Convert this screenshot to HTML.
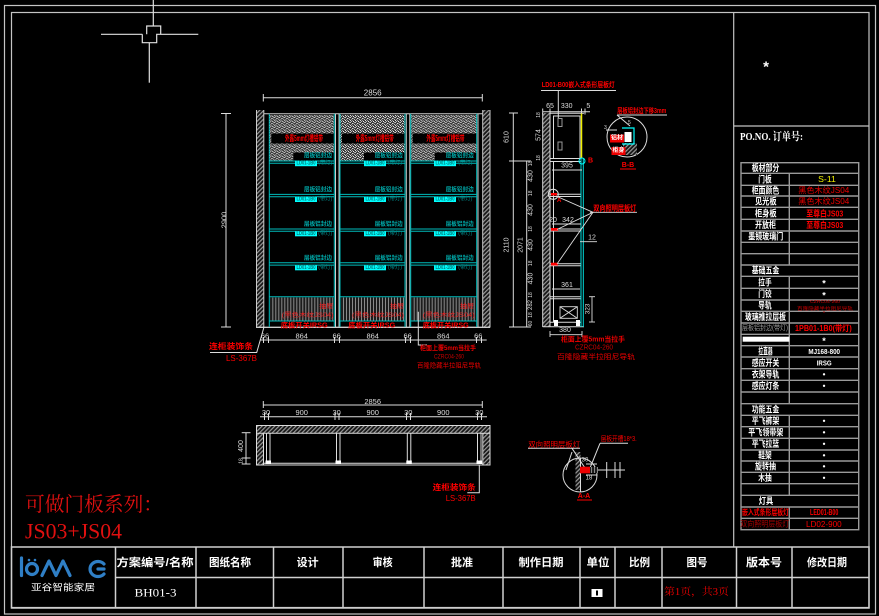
<!DOCTYPE html>
<html><head><meta charset="utf-8"><style>
html,body{margin:0;padding:0;background:#000;}
svg{display:block;}
text{font-family:"Liberation Sans","Noto Sans CJK SC",sans-serif;}
</style></head><body>
<svg width="879" height="616" viewBox="0 0 879 616" xmlns="http://www.w3.org/2000/svg">
<defs>
<pattern id="hatch" width="3" height="3" patternUnits="userSpaceOnUse" patternTransform="rotate(45)"><rect width="3" height="3" fill="#151515"/><rect width="1.2" height="3" fill="#9a9a9a"/></pattern>
<pattern id="noise" width="5" height="5" patternUnits="userSpaceOnUse">
<rect width="5" height="5" fill="#3a3a3a"/>
<rect x="0" y="0" width="1" height="1" fill="#ddd"/><rect x="2" y="0" width="1" height="1" fill="#999"/>
<rect x="1" y="1" width="1" height="1" fill="#bbb"/><rect x="3" y="1" width="1" height="1" fill="#eee"/>
<rect x="4" y="2" width="1" height="1" fill="#aaa"/><rect x="0" y="2" width="1" height="1" fill="#ccc"/>
<rect x="2" y="3" width="1" height="1" fill="#ddd"/><rect x="4" y="4" width="1" height="1" fill="#bbb"/>
<rect x="1" y="4" width="1" height="1" fill="#999"/><rect x="3" y="3" width="1" height="1" fill="#888"/>
</pattern>
<pattern id="stripe" width="3" height="4" patternUnits="userSpaceOnUse"><rect width="3" height="4" fill="#1c1c1c"/><rect width="1" height="4" fill="#8a8a8a"/></pattern>
</defs>
<rect width="879" height="616" fill="#000"/>

<!-- frames -->
<g fill="none" stroke="#c4c4c4" stroke-width="1.2">
<rect x="4.5" y="5.5" width="871" height="608.5"/>
<rect x="11.5" y="12.5" width="857.5" height="595"/>
<line x1="733.7" y1="12.5" x2="733.7" y2="547"/>
<line x1="733.7" y1="126" x2="869" y2="126"/>
</g>

<!-- crosshair -->
<g fill="none" stroke="#e0e0e0" stroke-width="1.2">
<line x1="153.3" y1="0" x2="153.3" y2="26"/>
<line x1="101" y1="34.3" x2="142.3" y2="34.3"/>
<path d="M142.3,34.3 V42.7 H156.7 V34.3 H198.3"/>
<path d="M146.7,34.3 V26 H160.7 V34.3"/>
<line x1="149.3" y1="42.7" x2="149.3" y2="82.7"/>
</g>

<text x="766" y="67" fill="#fff" font-size="15" font-weight="bold" text-anchor="middle" dominant-baseline="central">*</text>

<!-- ===== FRONT ELEVATION ===== -->
<g stroke="#ddd" stroke-width="1">
<line x1="263.3" y1="97.7" x2="482.3" y2="97.7"/>
<line x1="263.3" y1="94" x2="263.3" y2="101.5"/>
<line x1="482.3" y1="94" x2="482.3" y2="101.5"/>
</g>
<text x="372.7" y="93" fill="#ddd" font-size="8" text-anchor="middle" dominant-baseline="central">2856</text>

<!-- height dim -->
<g stroke="#ddd" stroke-width="1">
<line x1="226" y1="113.5" x2="226" y2="327"/>
<line x1="221" y1="113.5" x2="231" y2="113.5"/>
<line x1="221" y1="327" x2="231" y2="327"/>
</g>
<text transform="translate(224,220) rotate(-90)" fill="#ddd" font-size="7.5" text-anchor="middle" dominant-baseline="central">2900</text>

<!-- side panels -->
<rect x="257" y="110" width="6.5" height="217" fill="url(#hatch)"/>
<rect x="483" y="110" width="6.5" height="217" fill="url(#hatch)"/>
<g stroke="#ccc" stroke-width="1" fill="none">
<line x1="256.5" y1="110" x2="256.5" y2="327.5"/>
<line x1="263.8" y1="110" x2="263.8" y2="327.5"/>
<line x1="482.7" y1="110" x2="482.7" y2="327.5"/>
<line x1="490" y1="110" x2="490" y2="327.5"/>
<line x1="264" y1="113.7" x2="482.7" y2="113.7"/>
<line x1="256" y1="327.3" x2="490" y2="327.3" stroke-width="1.3"/>
<line x1="335.5" y1="113.7" x2="335.5" y2="327"/>
<line x1="339" y1="113.7" x2="339" y2="327"/>
<line x1="406.3" y1="113.7" x2="406.3" y2="327"/>
<line x1="409.8" y1="113.7" x2="409.8" y2="327"/>
<line x1="478" y1="113.7" x2="478" y2="327"/>
</g>

<!-- bay 1 -->
<g transform="translate(269.3,0)">
<rect x="0" y="115" width="65" height="45.5" fill="url(#noise)"/>
<rect x="2" y="133.5" width="63" height="10" fill="#000"/>
<rect x="24" y="152.5" width="41" height="8" fill="#000"/>
<text x="34.7" y="138.5" fill="#f00" font-size="8" font-weight="bold" text-anchor="middle" dominant-baseline="central" textLength="38" lengthAdjust="spacingAndGlyphs">外露5mm灯槽铝带</text>
<g stroke="#0bb" stroke-width="1">
<line x1="0" y1="161" x2="65" y2="161"/><line x1="0" y1="163.3" x2="65" y2="163.3"/>
<line x1="0" y1="194.4" x2="65" y2="194.4"/><line x1="0" y1="196.7" x2="65" y2="196.7"/>
<line x1="0" y1="229" x2="65" y2="229"/><line x1="0" y1="231.3" x2="65" y2="231.3"/>
<line x1="0" y1="262.8" x2="65" y2="262.8"/><line x1="0" y1="265.1" x2="65" y2="265.1"/>
<line x1="0" y1="296.7" x2="65" y2="296.7"/><line x1="0" y1="321" x2="65" y2="321"/>
<line x1="0" y1="113.7" x2="0" y2="327"/><line x1="65" y1="113.7" x2="65" y2="327"/>
</g>
<g fill="#0aa" font-size="6" font-weight="bold">
<text x="34.7" y="156.3" dominant-baseline="central" textLength="28" lengthAdjust="spacingAndGlyphs">层板铝封边</text>
<text x="34.7" y="190.3" dominant-baseline="central" textLength="28" lengthAdjust="spacingAndGlyphs">层板铝封边</text>
<text x="34.7" y="225" dominant-baseline="central" textLength="28" lengthAdjust="spacingAndGlyphs">层板铝封边</text>
<text x="34.7" y="259" dominant-baseline="central" textLength="28" lengthAdjust="spacingAndGlyphs">层板铝封边</text>
</g>
<g fill="#0ff">
<rect x="25.7" y="160.7" width="22" height="5.5"/>
<rect x="25.7" y="197" width="22" height="5"/>
<rect x="25.7" y="231.3" width="22" height="5"/>
<rect x="25.7" y="265.3" width="22" height="5"/>
</g>
<g fill="#077" font-size="5" font-weight="bold">
<text x="36.7" y="163.5" text-anchor="middle" dominant-baseline="central" textLength="19" lengthAdjust="spacingAndGlyphs">LD01-1B0</text>
<text x="36.7" y="199.5" text-anchor="middle" dominant-baseline="central" textLength="19" lengthAdjust="spacingAndGlyphs">LD01-1B0</text>
<text x="36.7" y="233.8" text-anchor="middle" dominant-baseline="central" textLength="19" lengthAdjust="spacingAndGlyphs">LD01-1B0</text>
<text x="36.7" y="267.8" text-anchor="middle" dominant-baseline="central" textLength="19" lengthAdjust="spacingAndGlyphs">LD01-1B0</text>
</g>
<g fill="#088" font-size="5.5">
<text x="49" y="163.5" dominant-baseline="central" textLength="14" lengthAdjust="spacingAndGlyphs">(带灯)</text>
<text x="49" y="199.5" dominant-baseline="central" textLength="14" lengthAdjust="spacingAndGlyphs">(带灯)</text>
<text x="49" y="233.8" dominant-baseline="central" textLength="14" lengthAdjust="spacingAndGlyphs">(带灯)</text>
<text x="49" y="267.8" dominant-baseline="central" textLength="14" lengthAdjust="spacingAndGlyphs">(带灯)</text>
</g>
<rect x="1" y="297.5" width="63" height="23" fill="url(#stripe)"/>
<text x="50" y="306.7" fill="#f22" font-size="6.5" dominant-baseline="central" textLength="14" lengthAdjust="spacingAndGlyphs">抽屉</text>
<text x="12.4" y="316" fill="#e22" font-size="6" dominant-baseline="central" textLength="52" lengthAdjust="spacingAndGlyphs">(黑色木纹JS04)</text>
<text x="11.4" y="326" fill="#f00" font-size="7" font-weight="bold" dominant-baseline="central" textLength="47" lengthAdjust="spacingAndGlyphs">底板开关IRSG</text>
</g>

<!-- bay 2 -->
<g transform="translate(340,0)">
<rect x="0" y="115" width="65" height="45.5" fill="url(#noise)"/>
<rect x="2" y="133.5" width="63" height="10" fill="#000"/>
<rect x="24" y="152.5" width="41" height="8" fill="#000"/>
<text x="34.7" y="138.5" fill="#f00" font-size="8" font-weight="bold" text-anchor="middle" dominant-baseline="central" textLength="38" lengthAdjust="spacingAndGlyphs">外露5mm灯槽铝带</text>
<g stroke="#0bb" stroke-width="1">
<line x1="0" y1="161" x2="65" y2="161"/><line x1="0" y1="163.3" x2="65" y2="163.3"/>
<line x1="0" y1="194.4" x2="65" y2="194.4"/><line x1="0" y1="196.7" x2="65" y2="196.7"/>
<line x1="0" y1="229" x2="65" y2="229"/><line x1="0" y1="231.3" x2="65" y2="231.3"/>
<line x1="0" y1="262.8" x2="65" y2="262.8"/><line x1="0" y1="265.1" x2="65" y2="265.1"/>
<line x1="0" y1="296.7" x2="65" y2="296.7"/><line x1="0" y1="321" x2="65" y2="321"/>
<line x1="0" y1="113.7" x2="0" y2="327"/><line x1="65" y1="113.7" x2="65" y2="327"/>
</g>
<g fill="#0aa" font-size="6" font-weight="bold">
<text x="34.7" y="156.3" dominant-baseline="central" textLength="28" lengthAdjust="spacingAndGlyphs">层板铝封边</text>
<text x="34.7" y="190.3" dominant-baseline="central" textLength="28" lengthAdjust="spacingAndGlyphs">层板铝封边</text>
<text x="34.7" y="225" dominant-baseline="central" textLength="28" lengthAdjust="spacingAndGlyphs">层板铝封边</text>
<text x="34.7" y="259" dominant-baseline="central" textLength="28" lengthAdjust="spacingAndGlyphs">层板铝封边</text>
</g>
<g fill="#0ff">
<rect x="24" y="160.7" width="22" height="5.5"/>
<rect x="24" y="197" width="22" height="5"/>
<rect x="24" y="231.3" width="22" height="5"/>
<rect x="24" y="265.3" width="22" height="5"/>
</g>
<g fill="#077" font-size="5" font-weight="bold">
<text x="35" y="163.5" text-anchor="middle" dominant-baseline="central" textLength="19" lengthAdjust="spacingAndGlyphs">LD01-1B0</text>
<text x="35" y="199.5" text-anchor="middle" dominant-baseline="central" textLength="19" lengthAdjust="spacingAndGlyphs">LD01-1B0</text>
<text x="35" y="233.8" text-anchor="middle" dominant-baseline="central" textLength="19" lengthAdjust="spacingAndGlyphs">LD01-1B0</text>
<text x="35" y="267.8" text-anchor="middle" dominant-baseline="central" textLength="19" lengthAdjust="spacingAndGlyphs">LD01-1B0</text>
</g>
<g fill="#088" font-size="5.5">
<text x="48" y="163.5" dominant-baseline="central" textLength="14" lengthAdjust="spacingAndGlyphs">(带灯)</text>
<text x="48" y="199.5" dominant-baseline="central" textLength="14" lengthAdjust="spacingAndGlyphs">(带灯)</text>
<text x="48" y="233.8" dominant-baseline="central" textLength="14" lengthAdjust="spacingAndGlyphs">(带灯)</text>
<text x="48" y="267.8" dominant-baseline="central" textLength="14" lengthAdjust="spacingAndGlyphs">(带灯)</text>
</g>
<rect x="1" y="297.5" width="63" height="23" fill="url(#stripe)"/>
<text x="50" y="306.7" fill="#f22" font-size="6.5" dominant-baseline="central" textLength="14" lengthAdjust="spacingAndGlyphs">抽屉</text>
<text x="12" y="316" fill="#e22" font-size="6" dominant-baseline="central" textLength="52" lengthAdjust="spacingAndGlyphs">(黑色木纹JS04)</text>
<text x="8.3" y="326" fill="#f00" font-size="7" font-weight="bold" dominant-baseline="central" textLength="47" lengthAdjust="spacingAndGlyphs">底板开关IRSG</text>
</g>

<!-- bay 3 -->
<g transform="translate(410.7,0)">
<rect x="0" y="115" width="66" height="45.5" fill="url(#noise)"/>
<rect x="2" y="133.5" width="64" height="10" fill="#000"/>
<rect x="24" y="152.5" width="42" height="8" fill="#000"/>
<text x="34.7" y="138.5" fill="#f00" font-size="8" font-weight="bold" text-anchor="middle" dominant-baseline="central" textLength="38" lengthAdjust="spacingAndGlyphs">外露5mm灯槽铝带</text>
<g stroke="#0bb" stroke-width="1">
<line x1="0" y1="161" x2="66" y2="161"/><line x1="0" y1="163.3" x2="66" y2="163.3"/>
<line x1="0" y1="194.4" x2="66" y2="194.4"/><line x1="0" y1="196.7" x2="66" y2="196.7"/>
<line x1="0" y1="229" x2="66" y2="229"/><line x1="0" y1="231.3" x2="66" y2="231.3"/>
<line x1="0" y1="262.8" x2="66" y2="262.8"/><line x1="0" y1="265.1" x2="66" y2="265.1"/>
<line x1="0" y1="296.7" x2="66" y2="296.7"/><line x1="0" y1="321" x2="66" y2="321"/>
<line x1="0" y1="113.7" x2="0" y2="327"/><line x1="66" y1="113.7" x2="66" y2="327"/>
</g>
<g fill="#0aa" font-size="6" font-weight="bold">
<text x="35" y="156.3" dominant-baseline="central" textLength="28" lengthAdjust="spacingAndGlyphs">层板铝封边</text>
<text x="35" y="190.3" dominant-baseline="central" textLength="28" lengthAdjust="spacingAndGlyphs">层板铝封边</text>
<text x="35" y="225" dominant-baseline="central" textLength="28" lengthAdjust="spacingAndGlyphs">层板铝封边</text>
<text x="35" y="259" dominant-baseline="central" textLength="28" lengthAdjust="spacingAndGlyphs">层板铝封边</text>
</g>
<g fill="#0ff">
<rect x="23.3" y="160.7" width="22" height="5.5"/>
<rect x="23.3" y="197" width="22" height="5"/>
<rect x="23.3" y="231.3" width="22" height="5"/>
<rect x="23.3" y="265.3" width="22" height="5"/>
</g>
<g fill="#077" font-size="5" font-weight="bold">
<text x="34.3" y="163.5" text-anchor="middle" dominant-baseline="central" textLength="19" lengthAdjust="spacingAndGlyphs">LD01-1B0</text>
<text x="34.3" y="199.5" text-anchor="middle" dominant-baseline="central" textLength="19" lengthAdjust="spacingAndGlyphs">LD01-1B0</text>
<text x="34.3" y="233.8" text-anchor="middle" dominant-baseline="central" textLength="19" lengthAdjust="spacingAndGlyphs">LD01-1B0</text>
<text x="34.3" y="267.8" text-anchor="middle" dominant-baseline="central" textLength="19" lengthAdjust="spacingAndGlyphs">LD01-1B0</text>
</g>
<g fill="#088" font-size="5.5">
<text x="47.5" y="163.5" dominant-baseline="central" textLength="14" lengthAdjust="spacingAndGlyphs">(带灯)</text>
<text x="47.5" y="199.5" dominant-baseline="central" textLength="14" lengthAdjust="spacingAndGlyphs">(带灯)</text>
<text x="47.5" y="233.8" dominant-baseline="central" textLength="14" lengthAdjust="spacingAndGlyphs">(带灯)</text>
<text x="47.5" y="267.8" dominant-baseline="central" textLength="14" lengthAdjust="spacingAndGlyphs">(带灯)</text>
</g>
<rect x="1" y="297.5" width="64" height="23" fill="url(#stripe)"/>
<text x="49.3" y="306.7" fill="#f22" font-size="6.5" dominant-baseline="central" textLength="14" lengthAdjust="spacingAndGlyphs">抽屉</text>
<text x="12" y="316" fill="#e22" font-size="6" dominant-baseline="central" textLength="52" lengthAdjust="spacingAndGlyphs">(黑色木纹JS04)</text>
<text x="12" y="326" fill="#f00" font-size="7" font-weight="bold" dominant-baseline="central" textLength="46" lengthAdjust="spacingAndGlyphs">底板开关IRSG</text>
</g>

<!-- bottom dims -->
<g stroke="#ddd" stroke-width="1">
<line x1="260" y1="340" x2="486.7" y2="340"/>
<line x1="263.5" y1="337" x2="263.5" y2="343"/><line x1="268.5" y1="337" x2="268.5" y2="343"/>
<line x1="334.5" y1="337" x2="334.5" y2="343"/><line x1="339.5" y1="337" x2="339.5" y2="343"/>
<line x1="405.5" y1="337" x2="405.5" y2="343"/><line x1="410.5" y1="337" x2="410.5" y2="343"/>
<line x1="476.5" y1="337" x2="476.5" y2="343"/><line x1="481.5" y1="337" x2="481.5" y2="343"/>
</g>
<g fill="#ddd" font-size="7.5" text-anchor="middle" dominant-baseline="central">
<text x="265" y="336">66</text><text x="301.7" y="336">864</text>
<text x="336.7" y="336">66</text><text x="372.7" y="336">864</text>
<text x="407.7" y="336">66</text><text x="443.3" y="336">864</text>
<text x="478.3" y="336">66</text>
</g>

<!-- left label -->
<polyline points="264,327 256.7,352.5 210,352.5" fill="none" stroke="#ddd" stroke-width="1"/>
<text x="209" y="346.5" fill="#f00" font-size="8" font-weight="bold" dominant-baseline="central" textLength="44" lengthAdjust="spacingAndGlyphs">连柜装饰条</text>
<text x="226" y="358.3" fill="#f00" font-size="8" dominant-baseline="central" textLength="31" lengthAdjust="spacingAndGlyphs">LS-367B</text>

<!-- right label -->
<polyline points="418.3,311.7 418.3,345 427,345" fill="none" stroke="#ddd" stroke-width="1"/>
<g fill="#e00" font-size="6.5" text-anchor="middle" dominant-baseline="central">
<text x="448" y="348.5" font-weight="bold" textLength="56" lengthAdjust="spacingAndGlyphs">柜面上覆5mm当拉手</text>
<text x="449" y="357" fill="#c00" textLength="30" lengthAdjust="spacingAndGlyphs">CZRC04-260</text>
<text x="449" y="366" textLength="64" lengthAdjust="spacingAndGlyphs">百隆隐藏半拉阻尼导轨</text>
</g>

<!-- ===== PLAN VIEW ===== -->
<g stroke="#ddd" stroke-width="1">
<line x1="263.3" y1="405" x2="482.3" y2="405"/>
<line x1="263.3" y1="401" x2="263.3" y2="408"/><line x1="482.3" y1="401" x2="482.3" y2="408"/>
<line x1="260" y1="416.7" x2="487" y2="416.7"/>
<line x1="264.5" y1="413" x2="264.5" y2="420"/><line x1="268.5" y1="413" x2="268.5" y2="420"/>
<line x1="335" y1="413" x2="335" y2="420"/><line x1="339" y1="413" x2="339" y2="420"/>
<line x1="406.5" y1="413" x2="406.5" y2="420"/><line x1="410.5" y1="413" x2="410.5" y2="420"/>
<line x1="477.5" y1="413" x2="477.5" y2="420"/><line x1="481.5" y1="413" x2="481.5" y2="420"/>
</g>
<g fill="#ddd" font-size="7.5" text-anchor="middle" dominant-baseline="central">
<text x="372.7" y="401.5">2856</text>
<text x="266" y="412.5">30</text><text x="301.7" y="412.5">900</text>
<text x="336.7" y="412.5">30</text><text x="372.7" y="412.5">900</text>
<text x="408.3" y="412.5">30</text><text x="443.3" y="412.5">900</text>
<text x="479.3" y="412.5">30</text>
</g>
<rect x="256.5" y="425.5" width="233.5" height="8" fill="url(#hatch)"/>
<rect x="256.5" y="433.5" width="7" height="31.5" fill="url(#hatch)"/>
<rect x="483" y="433.5" width="7" height="31.5" fill="url(#hatch)"/>
<g stroke="#ddd" stroke-width="1" fill="none">
<rect x="256.5" y="425.5" width="233.5" height="39.5"/>
<line x1="256.5" y1="433.3" x2="490" y2="433.3"/>
<line x1="263.5" y1="433.3" x2="263.5" y2="465"/>
<line x1="482.8" y1="433.3" x2="482.8" y2="465"/>
<line x1="263.5" y1="463.3" x2="482.8" y2="463.3"/>
<line x1="266.5" y1="433.3" x2="266.5" y2="463"/><line x1="270" y1="433.3" x2="270" y2="463"/>
<line x1="336.5" y1="433.3" x2="336.5" y2="463"/><line x1="340" y1="433.3" x2="340" y2="463"/>
<line x1="407.3" y1="433.3" x2="407.3" y2="463"/><line x1="410.8" y1="433.3" x2="410.8" y2="463"/>
<line x1="477.5" y1="433.3" x2="477.5" y2="463"/><line x1="481" y1="433.3" x2="481" y2="463"/>
</g>
<g fill="#fff">
<rect x="265.5" y="460.5" width="5.5" height="3.5"/><rect x="335.5" y="460.5" width="5.5" height="3.5"/>
<rect x="406.3" y="460.5" width="5.5" height="3.5"/><rect x="476.5" y="460.5" width="5.5" height="3.5"/>
</g>
<g stroke="#ddd" stroke-width="1">
<line x1="246" y1="432.7" x2="246" y2="464"/>
<line x1="241.7" y1="432.7" x2="250.5" y2="432.7"/>
<line x1="241.7" y1="464" x2="250.5" y2="464"/>
<line x1="241.7" y1="458" x2="250.5" y2="458"/>
</g>
<text transform="translate(241.5,446) rotate(-90)" fill="#ddd" font-size="7" text-anchor="middle" dominant-baseline="central">400</text>
<text transform="translate(241.5,461) rotate(-90)" fill="#ddd" font-size="5" text-anchor="middle" dominant-baseline="central">18</text>
<polyline points="479.3,465 479.3,492.7 467.3,492.7" fill="none" stroke="#ddd" stroke-width="1"/>
<text x="432.7" y="487.3" fill="#f00" font-size="8" font-weight="bold" dominant-baseline="central" textLength="43" lengthAdjust="spacingAndGlyphs">连柜装饰条</text>
<text x="445.7" y="498.3" fill="#f00" font-size="8" dominant-baseline="central" textLength="30" lengthAdjust="spacingAndGlyphs">LS-367B</text>

<!-- ===== SIDE SECTION ===== -->
<text x="541.7" y="85.7" fill="#f00" font-size="7" font-weight="bold" dominant-baseline="central" textLength="73" lengthAdjust="spacingAndGlyphs">LD01-B00嵌入式条形层板灯</text>
<g stroke="#ddd" stroke-width="1" fill="none">
<line x1="541" y1="90.5" x2="616" y2="90.5"/>
<line x1="558.3" y1="90.5" x2="558.3" y2="118"/>
<line x1="542.7" y1="111.7" x2="590" y2="111.7"/>
<line x1="542.7" y1="108.5" x2="542.7" y2="114.5"/>
<line x1="550" y1="108.5" x2="550" y2="114.5"/>
<line x1="581.5" y1="108.5" x2="581.5" y2="114.5"/>
<line x1="585" y1="108.5" x2="585" y2="114.5"/>
</g>
<g fill="#ddd" font-size="7" text-anchor="middle" dominant-baseline="central">
<text x="550" y="106.5">65</text><text x="566.7" y="106.5">330</text><text x="588.3" y="106.5">5</text>
</g>
<rect x="543" y="113" width="7" height="214" fill="url(#hatch)"/>
<g stroke="#ddd" stroke-width="1" fill="none">
<line x1="542.7" y1="113" x2="542.7" y2="327"/>
<line x1="550" y1="113" x2="550" y2="327"/>
<line x1="550" y1="113.3" x2="584" y2="113.3"/>
<rect x="553.5" y="116" width="26.5" height="42.5"/>
<line x1="550" y1="158.5" x2="581" y2="158.5"/>
<line x1="550" y1="161.5" x2="581" y2="161.5"/>
<line x1="550" y1="194.3" x2="581" y2="194.3"/><line x1="550" y1="196.5" x2="581" y2="196.5"/>
<line x1="550" y1="229" x2="581" y2="229"/><line x1="550" y1="231" x2="581" y2="231"/>
<line x1="550" y1="263.7" x2="581" y2="263.7"/><line x1="550" y1="265.7" x2="581" y2="265.7"/>
<line x1="550" y1="296.7" x2="581" y2="296.7"/><line x1="550" y1="298.7" x2="581" y2="298.7"/>
<line x1="550" y1="322.3" x2="581" y2="322.3"/>
<line x1="542.7" y1="326.7" x2="584" y2="326.7"/>
<line x1="553.5" y1="161.5" x2="553.5" y2="322"/>
</g>
<g stroke="#999" stroke-width="1" fill="none">
<rect x="558" y="118.5" width="4" height="8"/>
<rect x="558" y="142" width="4" height="8"/>
</g>
<line x1="581.5" y1="113.5" x2="581.5" y2="158.5" stroke="#ee0" stroke-width="1.5"/>
<line x1="581" y1="158.5" x2="581" y2="327" stroke="#0dd" stroke-width="1"/>
<line x1="583.3" y1="158.5" x2="583.3" y2="327" stroke="#0dd" stroke-width="1"/>
<circle cx="582" cy="161" r="3" fill="none" stroke="#0ff" stroke-width="1"/>
<text x="588" y="161" fill="#f00" font-size="7" font-weight="bold" dominant-baseline="central">B</text>
<circle cx="553.3" cy="194.3" r="5" fill="none" stroke="#ddd" stroke-width="1"/>
<g fill="#f00">
<rect x="551" y="193" width="6" height="2.5"/>
<rect x="551" y="228" width="7" height="2.8"/>
<rect x="551" y="262.7" width="7" height="2.8"/>
</g>
<text x="557" y="201" fill="#f00" font-size="6" font-weight="bold" dominant-baseline="central">A</text>
<g stroke="#ddd" stroke-width="0.9" fill="none">
<line x1="552" y1="170" x2="582" y2="170"/>
<line x1="552" y1="224" x2="581" y2="224"/>
<line x1="552" y1="289" x2="580" y2="289"/>
<line x1="580" y1="241.7" x2="597" y2="241.7"/>
<line x1="593" y1="212.3" x2="556" y2="196"/>
<line x1="593" y1="212.3" x2="557" y2="229.5"/>
<line x1="593" y1="212.3" x2="557" y2="264"/>
<line x1="590" y1="212.3" x2="637" y2="212.3"/>
<rect x="560" y="306.7" width="17.3" height="11.6"/>
<line x1="560" y1="306.7" x2="577.3" y2="318.3"/>
<line x1="577.3" y1="306.7" x2="560" y2="318.3"/>
<line x1="592" y1="296.7" x2="592" y2="322"/>
<line x1="589" y1="296.7" x2="595" y2="296.7"/>
<line x1="589" y1="322" x2="595" y2="322"/>
<line x1="550" y1="334.7" x2="582" y2="334.7"/>
<line x1="550" y1="331" x2="550" y2="337"/>
<line x1="582" y1="331" x2="582" y2="337"/>
</g>
<g fill="#fff">
<rect x="554" y="320" width="4" height="6"/>
<rect x="576" y="320" width="4" height="6"/>
</g>
<g fill="#ddd" font-size="7" text-anchor="middle" dominant-baseline="central">
<text x="567" y="166">395</text>
<text x="553" y="220.5">20</text><text x="568" y="220.5">342</text>
<text x="567" y="285.3">361</text>
<text x="592" y="237.8">12</text>
<text x="565" y="330.5">380</text>
</g>
<text transform="translate(588,309) rotate(-90)" fill="#ddd" font-size="6.5" text-anchor="middle" dominant-baseline="central">323</text>
<text x="593.3" y="208.3" fill="#f00" font-size="8" font-weight="bold" dominant-baseline="central" textLength="43" lengthAdjust="spacingAndGlyphs">双向照明层板灯</text>
<g fill="#e00" font-size="7" text-anchor="middle" dominant-baseline="central">
<text x="593" y="340" font-weight="bold" textLength="64" lengthAdjust="spacingAndGlyphs">柜面上覆5mm当拉手</text>
<text x="594" y="348" fill="#c00" textLength="38" lengthAdjust="spacingAndGlyphs">CZRC04-260</text>
<text x="596" y="357.5" textLength="78" lengthAdjust="spacingAndGlyphs">百隆隐藏半拉阻尼导轨</text>
</g>
<!-- left dims of side -->
<g stroke="#ddd" stroke-width="1">
<line x1="513.3" y1="113" x2="513.3" y2="327"/>
<line x1="509" y1="113" x2="518" y2="113"/>
<line x1="509" y1="161" x2="531" y2="161"/>
<line x1="509" y1="327" x2="531" y2="327"/>
<line x1="526.7" y1="161" x2="526.7" y2="327"/>
</g>
<g fill="#ddd" font-size="7" text-anchor="middle" dominant-baseline="central">
<text transform="translate(507,137) rotate(-90)">610</text>
<text transform="translate(507,245) rotate(-90)">2110</text>
<text transform="translate(521,245) rotate(-90)">2071</text>
<text transform="translate(531,176) rotate(-90)">430</text>
<text transform="translate(531,210) rotate(-90)">430</text>
<text transform="translate(531,245) rotate(-90)">430</text>
<text transform="translate(531,278.5) rotate(-90)">430</text>
<text transform="translate(531,305) rotate(-90)" font-size="6">282</text>
<text transform="translate(539,135) rotate(-90)">574</text>
</g>
<g fill="#ddd" font-size="5" text-anchor="middle" dominant-baseline="central">
<text transform="translate(531,163.5) rotate(-90)">18</text>
<text transform="translate(531,193.3) rotate(-90)">18</text>
<text transform="translate(531,229) rotate(-90)">18</text>
<text transform="translate(531,263.3) rotate(-90)">18</text>
<text transform="translate(531,295) rotate(-90)">18</text>
<text transform="translate(531,315) rotate(-90)">18</text>
<text transform="translate(531,323.5) rotate(-90)">60</text>
<text transform="translate(539,115) rotate(-90)">18</text>
<text transform="translate(539,158) rotate(-90)">18</text>
</g>

<!-- B-B detail -->
<text x="617.3" y="111.7" fill="#f00" font-size="7" font-weight="bold" dominant-baseline="central" textLength="49" lengthAdjust="spacingAndGlyphs">层板铝封边下移3mm</text>
<g stroke="#ddd" stroke-width="1" fill="none">
<line x1="617" y1="115" x2="667" y2="115"/>
<line x1="617" y1="115" x2="630" y2="126"/>
<circle cx="627" cy="137" r="20"/>
<line x1="606" y1="130" x2="617" y2="130"/>
</g>
<rect x="623" y="143" width="14" height="12" fill="url(#hatch)"/>
<rect x="610" y="134.5" width="14" height="8" fill="#e00"/>
<rect x="611.5" y="147" width="14" height="8" fill="#e00"/>
<rect x="624.5" y="132" width="7" height="10" fill="#fff"/>
<polyline points="622,128 634,128 634,144 622,144" fill="none" stroke="#0ff" stroke-width="1.2"/>
<g fill="#fff" font-size="6" font-weight="bold" text-anchor="middle" dominant-baseline="central">
<text x="617" y="138.5" textLength="12" lengthAdjust="spacingAndGlyphs">铝材</text>
<text x="618.5" y="151" textLength="12" lengthAdjust="spacingAndGlyphs">柜身</text>
</g>
<text x="604" y="128" fill="#ddd" font-size="5" dominant-baseline="central">3</text>
<text x="628" y="123" fill="#ddd" font-size="5" dominant-baseline="central">5</text>
<text x="628" y="165.5" fill="#f00" font-size="7" font-weight="bold" text-anchor="middle" dominant-baseline="central">B-B</text>
<line x1="620" y1="169" x2="636" y2="169" stroke="#f00" stroke-width="1"/>

<!-- A-A detail -->
<text x="528.3" y="444.5" fill="#f00" font-size="7.5" dominant-baseline="central" textLength="51.7" lengthAdjust="spacingAndGlyphs">双向照明层板灯</text>
<text x="600.7" y="439.5" fill="#f00" font-size="7" dominant-baseline="central" textLength="36" lengthAdjust="spacingAndGlyphs">层板开槽18*3.</text>
<rect x="575.5" y="452" width="5" height="38" fill="url(#hatch)"/>
<g stroke="#ddd" stroke-width="1" fill="none">
<line x1="528" y1="448.3" x2="580" y2="448.3"/>
<line x1="600" y1="443.3" x2="628" y2="443.3"/>
<line x1="600" y1="443.3" x2="590" y2="468"/>
<line x1="572" y1="448.3" x2="585" y2="468"/>
<line x1="566" y1="470" x2="572" y2="452"/>
<circle cx="580" cy="475" r="17"/>
<line x1="580.5" y1="458" x2="580.5" y2="492"/>
<line x1="597" y1="470" x2="625" y2="470"/>
<line x1="606.7" y1="462" x2="606.7" y2="478"/>
<line x1="615" y1="462" x2="615" y2="478"/>
<line x1="620" y1="462" x2="620" y2="478"/>
<line x1="586" y1="475" x2="597" y2="475"/>
<line x1="586" y1="464" x2="597" y2="464"/>
</g>
<rect x="590" y="467" width="8" height="6" fill="url(#stripe)"/>
<rect x="580" y="466.7" width="10" height="6.6" fill="#e00"/>
<g fill="#ddd" font-size="6" text-anchor="middle" dominant-baseline="central">
<text x="585" y="460.5">30</text>
<text x="589" y="478.5">18</text>
</g>
<text x="584" y="496.5" fill="#f00" font-size="7" font-weight="bold" text-anchor="middle" dominant-baseline="central">A-A</text>
<line x1="577" y1="500" x2="592" y2="500" stroke="#f00" stroke-width="1"/>

<!-- bottom-left red text -->
<text x="25" y="511" fill="#e01010" font-size="20" style="font-family:'Liberation Serif','Noto Serif CJK SC',serif" textLength="138" lengthAdjust="spacingAndGlyphs">可做门板系列：</text>
<text x="25" y="538.3" fill="#e01010" font-size="22" style="font-family:'Liberation Serif',serif" textLength="97" lengthAdjust="spacingAndGlyphs">JS03+JS04</text>

<!-- ===== RIGHT PANEL TABLE ===== -->
<text x="740" y="137" fill="#fff" font-size="11" font-weight="bold" style="font-family:'Liberation Serif','Noto Serif CJK SC',serif" dominant-baseline="central" textLength="63" lengthAdjust="spacingAndGlyphs">PO.NO. 订单号:</text>
<g stroke="#9a9a9a" stroke-width="1.4" fill="none">
<rect x="741" y="162.7" width="117.7" height="367"/>
<line x1="741" y1="173.3" x2="858.7" y2="173.3"/><line x1="741" y1="185.3" x2="858.7" y2="185.3"/>
<line x1="741" y1="196" x2="858.7" y2="196"/><line x1="741" y1="207.3" x2="858.7" y2="207.3"/>
<line x1="741" y1="219.3" x2="858.7" y2="219.3"/><line x1="741" y1="231" x2="858.7" y2="231"/>
<line x1="741" y1="242.3" x2="858.7" y2="242.3"/><line x1="741" y1="253.7" x2="858.7" y2="253.7"/>
<line x1="741" y1="265" x2="858.7" y2="265"/><line x1="741" y1="276.3" x2="858.7" y2="276.3"/>
<line x1="741" y1="288.3" x2="858.7" y2="288.3"/><line x1="741" y1="300" x2="858.7" y2="300"/>
<line x1="741" y1="311.3" x2="858.7" y2="311.3"/><line x1="741" y1="323" x2="858.7" y2="323"/>
<line x1="741" y1="334.3" x2="858.7" y2="334.3"/><line x1="741" y1="345.7" x2="858.7" y2="345.7"/>
<line x1="741" y1="357" x2="858.7" y2="357"/><line x1="741" y1="368.7" x2="858.7" y2="368.7"/>
<line x1="741" y1="380.3" x2="858.7" y2="380.3"/><line x1="741" y1="392" x2="858.7" y2="392"/>
<line x1="741" y1="403.7" x2="858.7" y2="403.7"/><line x1="741" y1="415.3" x2="858.7" y2="415.3"/>
<line x1="741" y1="426.7" x2="858.7" y2="426.7"/><line x1="741" y1="438.3" x2="858.7" y2="438.3"/>
<line x1="741" y1="450" x2="858.7" y2="450"/><line x1="741" y1="461" x2="858.7" y2="461"/>
<line x1="741" y1="472.3" x2="858.7" y2="472.3"/><line x1="741" y1="483.7" x2="858.7" y2="483.7"/>
<line x1="741" y1="495.3" x2="858.7" y2="495.3"/><line x1="741" y1="507" x2="858.7" y2="507"/>
<line x1="741" y1="518.3" x2="858.7" y2="518.3"/>
<line x1="789.3" y1="173.3" x2="789.3" y2="265"/>
<line x1="789.3" y1="276.3" x2="789.3" y2="403.7"/>
<line x1="789.3" y1="415.3" x2="789.3" y2="495.3"/>
<line x1="789.3" y1="507" x2="789.3" y2="529.7"/>
</g>
<rect x="742.7" y="336.7" width="46.6" height="5" fill="#fff"/>
<g fill="#fff" font-size="9" font-weight="bold" text-anchor="middle" dominant-baseline="central">
<text x="765.5" y="168" textLength="27.6" lengthAdjust="spacingAndGlyphs">板材部分</text>
<text x="765" y="179.3" textLength="13.4" lengthAdjust="spacingAndGlyphs">门板</text>
<text x="765.5" y="190.7" textLength="27.6" lengthAdjust="spacingAndGlyphs">柜面颜色</text>
<text x="765.8" y="201.7" textLength="21.7" lengthAdjust="spacingAndGlyphs">见光板</text>
<text x="765.8" y="213.3" textLength="21.7" lengthAdjust="spacingAndGlyphs">柜身板</text>
<text x="765.5" y="225.2" textLength="21" lengthAdjust="spacingAndGlyphs">开放柜</text>
<text x="765.8" y="236.7" textLength="35" lengthAdjust="spacingAndGlyphs">墨镜玻璃门</text>
<text x="765.5" y="270.7" textLength="27.6" lengthAdjust="spacingAndGlyphs">基础五金</text>
<text x="765" y="282.3" textLength="13.4" lengthAdjust="spacingAndGlyphs">拉手</text>
<text x="765" y="294.2" textLength="13.4" lengthAdjust="spacingAndGlyphs">门铰</text>
<text x="765" y="305.7" textLength="13.4" lengthAdjust="spacingAndGlyphs">导轨</text>
<text x="765.5" y="317.2" textLength="41" lengthAdjust="spacingAndGlyphs">玻璃推拉层板</text>
<text x="765.5" y="351.4" textLength="14.4" lengthAdjust="spacingAndGlyphs">拉直器</text>
<text x="765.5" y="362.9" textLength="27.6" lengthAdjust="spacingAndGlyphs">感应开关</text>
<text x="765.5" y="374.5" textLength="27.6" lengthAdjust="spacingAndGlyphs">衣架导轨</text>
<text x="765.5" y="386.2" textLength="27.6" lengthAdjust="spacingAndGlyphs">感应灯条</text>
<text x="765.5" y="409.5" textLength="27.6" lengthAdjust="spacingAndGlyphs">功能五金</text>
<text x="765.5" y="421" textLength="27.6" lengthAdjust="spacingAndGlyphs">平飞裤架</text>
<text x="765.8" y="432.5" textLength="35" lengthAdjust="spacingAndGlyphs">平飞领带架</text>
<text x="765.5" y="444.2" textLength="27.6" lengthAdjust="spacingAndGlyphs">平飞拉篮</text>
<text x="765" y="455.5" textLength="13.4" lengthAdjust="spacingAndGlyphs">鞋架</text>
<text x="765.5" y="466.7" textLength="21" lengthAdjust="spacingAndGlyphs">旋转抽</text>
<text x="765" y="478" textLength="13.4" lengthAdjust="spacingAndGlyphs">木抽</text>
<text x="766" y="501.2" textLength="14.4" lengthAdjust="spacingAndGlyphs">灯具</text>
</g>
<text x="765" y="328.7" fill="#999" font-size="7" text-anchor="middle" dominant-baseline="central" textLength="46" lengthAdjust="spacingAndGlyphs">层板铝封边(带灯)</text>
<text x="765.5" y="512.7" fill="#f00" font-size="8" font-weight="bold" text-anchor="middle" dominant-baseline="central" textLength="47" lengthAdjust="spacingAndGlyphs">嵌入式条形层板灯</text>
<text x="764.7" y="524" fill="#a00" font-size="8" text-anchor="middle" dominant-baseline="central" textLength="49" lengthAdjust="spacingAndGlyphs">双向照明层板灯</text>

<g text-anchor="middle" dominant-baseline="central">
<text x="827" y="179.3" fill="#ee0" font-size="8" textLength="17.7" lengthAdjust="spacingAndGlyphs">S-11</text>
<text x="823.8" y="190.7" fill="#e00" font-size="8" textLength="51" lengthAdjust="spacingAndGlyphs">黑色木纹JS04</text>
<text x="823.8" y="201.7" fill="#e00" font-size="8" textLength="51" lengthAdjust="spacingAndGlyphs">黑色木纹JS04</text>
<text x="824.7" y="213.3" fill="#f00" font-size="8.5" font-weight="bold" textLength="37" lengthAdjust="spacingAndGlyphs">至尊白JS03</text>
<text x="824.7" y="225.2" fill="#f00" font-size="8.5" font-weight="bold" textLength="37" lengthAdjust="spacingAndGlyphs">至尊白JS03</text>
<text x="824" y="283.5" fill="#fff" font-size="9" font-weight="bold">*</text>
<text x="824" y="295.4" fill="#fff" font-size="9" font-weight="bold">*</text>
<text x="825" y="301.7" fill="#c00" font-size="4.5" textLength="30" lengthAdjust="spacingAndGlyphs">CZRC04-260</text>
<text x="825" y="308.3" fill="#c00" font-size="4.5" textLength="56" lengthAdjust="spacingAndGlyphs">百隆隐藏半拉阻尼导轨</text>
<text x="824" y="314" fill="#c00" font-size="5">*</text>
<text x="823.4" y="328.7" fill="#f00" font-size="8" font-weight="bold" textLength="56.7" lengthAdjust="spacingAndGlyphs">1PB01-1B0(带灯)</text>
<text x="824" y="341" fill="#fff" font-size="9" font-weight="bold">*</text>
<text x="824.2" y="351.4" fill="#fff" font-size="7.5" font-weight="bold" textLength="31.7" lengthAdjust="spacingAndGlyphs">MJ168-800</text>
<text x="824.2" y="362.9" fill="#fff" font-size="7.5" font-weight="bold" textLength="15" lengthAdjust="spacingAndGlyphs">IRSG</text>
<text x="824" y="374.5" fill="#fff" font-size="8" font-weight="bold">•</text>
<text x="824" y="386.2" fill="#fff" font-size="8" font-weight="bold">•</text>
<text x="824" y="421" fill="#fff" font-size="8" font-weight="bold">•</text>
<text x="824" y="432.5" fill="#fff" font-size="8" font-weight="bold">•</text>
<text x="824" y="444.2" fill="#fff" font-size="8" font-weight="bold">•</text>
<text x="824" y="455.5" fill="#fff" font-size="8" font-weight="bold">•</text>
<text x="824" y="466.7" fill="#fff" font-size="8" font-weight="bold">•</text>
<text x="824" y="478" fill="#fff" font-size="8" font-weight="bold">•</text>
<text x="824.2" y="512.7" fill="#f00" font-size="8" font-weight="bold" textLength="28.3" lengthAdjust="spacingAndGlyphs">LED01-B00</text>
<text x="823.8" y="524" fill="#f00" font-size="8.5" textLength="35.7" lengthAdjust="spacingAndGlyphs">LD02-900</text>
</g>

<!-- ===== TITLE BLOCK ===== -->
<g stroke="#d0d0d0" stroke-width="1.5" fill="none">
<rect x="11.5" y="547" width="857.5" height="61"/>
<line x1="115.5" y1="577.5" x2="869" y2="577.5"/>
<line x1="115.5" y1="547" x2="115.5" y2="608"/>
<line x1="196" y1="547" x2="196" y2="608"/>
<line x1="273.5" y1="547" x2="273.5" y2="608"/>
<line x1="343" y1="547" x2="343" y2="608"/>
<line x1="424" y1="547" x2="424" y2="608"/>
<line x1="503" y1="547" x2="503" y2="608"/>
<line x1="580" y1="547" x2="580" y2="608"/>
<line x1="615" y1="547" x2="615" y2="608"/>
<line x1="662" y1="547" x2="662" y2="608"/>
<line x1="736.5" y1="547" x2="736.5" y2="608"/>
<line x1="792" y1="547" x2="792" y2="608"/>
</g>
<!-- logo -->
<g fill="none" stroke="#2f7fc6" stroke-width="3.2" stroke-linecap="round" stroke-linejoin="round">
<line x1="21.5" y1="558" x2="21.5" y2="575.5"/>
<circle cx="32" cy="569" r="5.5"/>
<polyline points="42,575.5 49,561 56,575.5 63,561 70,575.5"/>
<path d="M104,564 A8,7.5 0 1 0 104,574"/>
<line x1="98" y1="569" x2="104" y2="569"/>
</g>
<circle cx="29" cy="560" r="1.3" fill="#2f7fc6"/>
<circle cx="35" cy="560" r="1.3" fill="#2f7fc6"/>
<text x="63" y="587.5" fill="#fff" font-size="9" text-anchor="middle" dominant-baseline="central" textLength="64" lengthAdjust="spacingAndGlyphs">亚谷智能家居</text>

<g fill="#fff" font-size="11" font-weight="bold" text-anchor="middle" dominant-baseline="central">
<text x="155" y="563" textLength="77" lengthAdjust="spacingAndGlyphs">方案编号/名称</text>
<text x="230" y="563" textLength="42" lengthAdjust="spacingAndGlyphs">图纸名称</text>
<text x="307.6" y="563" textLength="22" lengthAdjust="spacingAndGlyphs">设计</text>
<text x="382.6" y="563" textLength="20" lengthAdjust="spacingAndGlyphs">审核</text>
<text x="462" y="563" textLength="22" lengthAdjust="spacingAndGlyphs">批准</text>
<text x="541" y="563" textLength="45" lengthAdjust="spacingAndGlyphs">制作日期</text>
<text x="598" y="563" textLength="23" lengthAdjust="spacingAndGlyphs">单位</text>
<text x="639.5" y="563" textLength="21" lengthAdjust="spacingAndGlyphs">比例</text>
<text x="697" y="563" textLength="21" lengthAdjust="spacingAndGlyphs">图号</text>
<text x="764" y="563" textLength="36" lengthAdjust="spacingAndGlyphs">版本号</text>
<text x="827" y="563" textLength="40" lengthAdjust="spacingAndGlyphs">修改日期</text>
</g>
<text x="155.5" y="592.5" fill="#fff" font-size="12" style="font-family:'Liberation Serif',serif" text-anchor="middle" dominant-baseline="central" textLength="42" lengthAdjust="spacingAndGlyphs">BH01-3</text>
<rect x="591.5" y="589" width="11" height="8" fill="#fff"/>
<rect x="596" y="590.5" width="2" height="5" fill="#000"/>
<text x="696.5" y="592.5" fill="#e00" font-size="10" style="font-family:'Liberation Serif','Noto Serif CJK SC',serif" text-anchor="middle" dominant-baseline="central" textLength="64.7" lengthAdjust="spacingAndGlyphs">第1页，共3页</text>
</svg>
</body></html>
